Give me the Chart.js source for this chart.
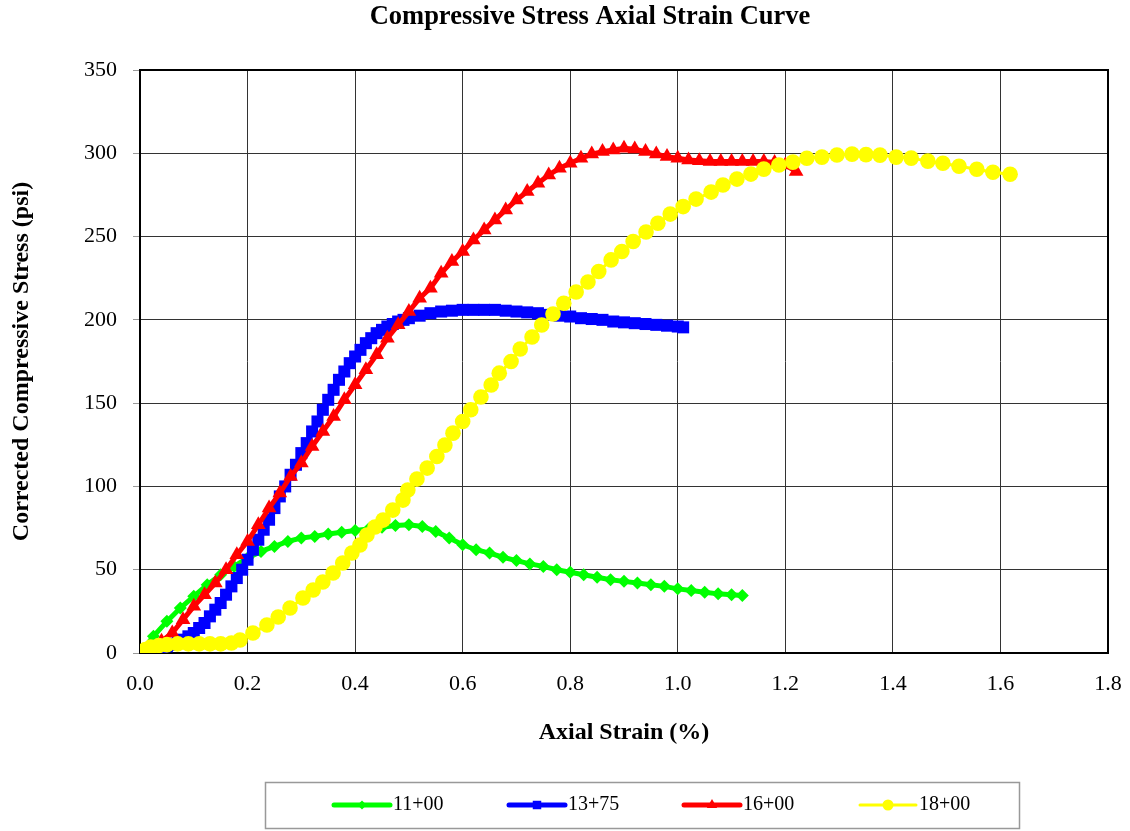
<!DOCTYPE html>
<html><head><meta charset="utf-8">
<script src="https://cdn.jsdelivr.net/npm/chart.js@4.4.1/dist/chart.umd.min.js"></script>
<style>html,body{margin:0;padding:0;background:#fff}</style>
</head><body>
<canvas id="c" width="1130" height="831"></canvas>
<script>
const TITLE = 'Compressive Stress Axial Strain Curve';
const X_TITLE = 'Axial Strain (%)';
const Y_TITLE = 'Corrected Compressive Stress (psi)';
const SERIES_NAMES = ['11+00', '13+75', '16+00', '18+00'];
const X_TICKS = [0, 0.2, 0.4, 0.6, 0.8, 1.0, 1.2, 1.4, 1.6, 1.8];
const Y_TICKS = [0, 50, 100, 150, 200, 250, 300, 350];

const strain1100 = [0,0.025,0.05,0.075,0.1,0.125,0.15,0.175,0.2,0.225,0.25,0.275,0.3,0.325,0.35,0.375,0.4,0.425,0.45,0.475,0.5,0.525,0.55,0.575,0.6,0.625,0.65,0.675,0.7,0.725,0.75,0.775,0.8,0.825,0.85,0.875,0.9,0.925,0.95,0.975,1.0,1.025,1.05,1.075,1.1,1.12];
const stress1100 = [0,10,19,27,34,41,47,52,57,61,64,67,69,70,71.5,72.5,73.5,74.5,75.5,76.5,77,76,73,69,65,62,60,57.5,55.5,53.5,52,50,48.5,47,45.5,44,43,42,41,40,38.5,37.5,36.5,35.5,35,34.5];

const strain1375 = [0,0.01,0.02,0.03,0.04,0.05,0.06,0.07,0.08,0.09,0.10,0.11,0.12,0.13,0.14,0.15,0.16,0.17,0.18,0.19,0.20,0.21,0.22,0.23,0.24,0.25,0.26,0.27,0.28,0.29,0.30,0.31,0.32,0.33,0.34,0.35,0.36,0.37,0.38,0.39,0.40,0.41,0.42,0.43,0.44,0.45,0.46,0.47,0.48,0.49,0.50,0.52,0.54,0.56,0.58,0.60,0.62,0.64,0.66,0.68,0.70,0.72,0.74,0.76,0.78,0.80,0.82,0.84,0.86,0.88,0.90,0.92,0.94,0.96,0.98,1.00,1.01];
const stress1375 = [0,0.5,1,2,3,4,5,6.5,8,10,12,15,18,22,26,30,35,40,45,50,56,62,68,74,80,87,94,100,107,113,120,126,133,139,146,152,158,164,169,174,178,182,186,189,192,194,196,197.5,199,200,201,202.5,204,205,205.5,206,206,206,206,205.5,205,204.5,204,203,202.5,202,201,200.5,200,199,198.5,198,197.5,197,196.5,196,195.5];

const strain1600 = [0,0.02,0.04,0.06,0.08,0.10,0.12,0.14,0.16,0.18,0.20,0.22,0.24,0.26,0.28,0.30,0.32,0.34,0.36,0.38,0.40,0.42,0.44,0.46,0.48,0.50,0.52,0.54,0.56,0.58,0.60,0.62,0.64,0.66,0.68,0.70,0.72,0.74,0.76,0.78,0.80,0.82,0.84,0.86,0.88,0.90,0.92,0.94,0.96,0.98,1.00,1.02,1.04,1.06,1.08,1.10,1.12,1.14,1.16,1.18,1.20,1.22];
const stress1600 = [0,3,7,12,20,28,35,42,50,59,67,77,87,96,106,114,124,133,142,152,161,170,179,189,197,205,213,219,228,235,241,248,254,260,266,272,277,282,287,291,294,297,299.5,301,302,303,302.5,301,299.5,298,297,296,295.5,295,295,295,295,295,295,294.5,293,289];

const strain1800 = [0,0.01,0.02,0.035,0.05,0.07,0.09,0.11,0.13,0.15,0.17,0.186,0.21,0.236,0.257,0.279,0.303,0.322,0.34,0.359,0.377,0.394,0.409,0.422,0.437,0.452,0.47,0.489,0.498,0.515,0.534,0.552,0.567,0.582,0.6,0.615,0.634,0.653,0.668,0.69,0.707,0.729,0.747,0.768,0.788,0.811,0.833,0.853,0.876,0.896,0.917,0.941,0.963,0.986,1.01,1.034,1.062,1.084,1.11,1.136,1.16,1.188,1.214,1.24,1.268,1.296,1.324,1.35,1.376,1.406,1.434,1.465,1.493,1.523,1.556,1.586,1.618];
const stress1800 = [0,2,3.5,4.5,5,5.5,5.5,5.5,5.5,5.5,6,7.8,12,16.8,21.6,27,33,37.8,42.6,48,54,60,64.8,70.8,75.6,79.8,85.8,91.8,97.8,104.4,111,118,124.8,132,139,146,153.7,160.9,168,175,182.5,189.7,196.9,203.5,210,216.7,222.7,229,236,241,247,252.7,258,263.5,268,272.5,276.7,281,284.5,287.5,290.5,293,294.7,297,297.7,299,299.5,299.2,298.9,297.7,297.1,295.3,294,292.2,290.4,288.6,287.4];

const SERIF = "'Liberation Serif', 'Times New Roman', serif";
const COLORS = ['#00FF00', '#0000FF', '#FF0000', '#FFFF00'];
const STYLES = ['rectRot', 'rect', 'triangle', 'circle'];
const RADII = [6.5, 8.5, 8.5, 7.8];
const LINEW = [5, 5, 5, 3];
const LEGEND_RADII = [4.5, 6, 6, 5.5];

function pts(xs, ys) { return xs.map((x, i) => ({x: x, y: ys[i]})); }
const seriesData = [pts(strain1100, stress1100), pts(strain1375, stress1375), pts(strain1600, stress1600), pts(strain1800, stress1800)];

const datasets = seriesData.map((d, i) => ({
  label: SERIES_NAMES[i],
  data: d,
  showLine: true,
  borderColor: COLORS[i],
  backgroundColor: COLORS[i],
  borderWidth: LINEW[i],
  pointStyle: STYLES[i],
  pointRadius: RADII[i],
  pointBorderWidth: 0,
  pointBackgroundColor: COLORS[i],
  pointBorderColor: COLORS[i],
  tension: 0,
  order: 4 - i
}));

const framePlugin = {
  id: 'frame',
  beforeDatasetsDraw(chart) {
    const a = chart.chartArea, ctx = chart.ctx;
    ctx.save();
    ctx.strokeStyle = '#000';
    ctx.lineWidth = 2;
    ctx.strokeRect(a.left, a.top, a.right - a.left, a.bottom - a.top);
    ctx.restore();
  }
};

const titlePlugin = {
  id: 'ctitle',
  afterDraw(chart) {
    const ctx = chart.ctx;
    ctx.save();
    ctx.font = "bold 26.5px " + SERIF;
    ctx.fillStyle = '#000';
    ctx.textAlign = 'center';
    ctx.textBaseline = 'middle';
    ctx.fillText(TITLE, 590, 17);
    ctx.restore();
  }
};

const legendPlugin = {
  id: 'clegend',
  afterDraw(chart) {
    const ctx = chart.ctx;
    ctx.save();
    ctx.strokeStyle = '#999';
    ctx.lineWidth = 1.5;
    ctx.strokeRect(265.5, 782.5, 754, 46);
    const lineX = [334, 509, 684, 860];
    const y = 805;
    ctx.font = "20px " + SERIF;
    ctx.textBaseline = 'middle';
    ctx.textAlign = 'left';
    chart.data.datasets.forEach((ds, i) => {
      const x0 = lineX[i], x1 = x0 + 56;
      ctx.strokeStyle = ds.borderColor;
      ctx.lineWidth = ds.borderWidth;
      ctx.lineCap = 'round';
      ctx.beginPath(); ctx.moveTo(x0, y); ctx.lineTo(x1, y); ctx.stroke();
      ctx.fillStyle = ds.backgroundColor;
      Chart.helpers.drawPoint(ctx, {pointStyle: ds.pointStyle, radius: LEGEND_RADII[i], borderWidth: 0, rotation: 0}, (x0 + x1) / 2, y);
      ctx.fillStyle = '#000';
      ctx.fillText(ds.label, x1 + 3, y);
    });
    ctx.restore();
  }
};

new Chart(document.getElementById('c'), {
  type: 'scatter',
  data: { datasets: datasets },
  options: {
    responsive: false,
    animation: false,
    devicePixelRatio: 1,
    layout: { padding: { top: 70, left: 0, right: 22, bottom: 71 } },
    plugins: { legend: { display: false }, title: { display: false }, tooltip: { enabled: false } },
    scales: {
      x: {
        type: 'linear', min: 0, max: 1.8,
        afterBuildTicks(scale) { scale.ticks = X_TICKS.map(v => ({value: v})); },
        afterFit(scale) { scale.height = 107; scale.paddingLeft = 0; scale.paddingRight = 0; },
        ticks: { callback: v => Number(v).toFixed(1), font: { family: SERIF, size: 22 }, color: '#000', padding: 18, maxRotation: 0 },
        grid: { color: '#333', lineWidth: 1, drawTicks: false },
        border: { display: false },
        title: { display: true, text: X_TITLE, font: { family: SERIF, size: 24, weight: 'bold' }, color: '#000', padding: { top: 0, bottom: 12.6 } }
      },
      y: {
        type: 'linear', min: 0, max: 350,
        afterBuildTicks(scale) { scale.ticks = Y_TICKS.map(v => ({value: v})); },
        afterFit(scale) { scale.width = 140; scale.paddingTop = 0; scale.paddingBottom = 0; },
        ticks: { font: { family: SERIF, size: 22 }, color: '#000', padding: 16 },
        grid: { color: '#333', lineWidth: 1, drawTicks: true, tickLength: 7, tickColor: '#999' },
        border: { display: false },
        title: { display: true, text: Y_TITLE, font: { family: SERIF, size: 24, weight: 'bold' }, color: '#000', padding: { top: 7.6, bottom: 0 } }
      }
    }
  },
  plugins: [framePlugin, titlePlugin, legendPlugin]
});
</script>
</body></html>
